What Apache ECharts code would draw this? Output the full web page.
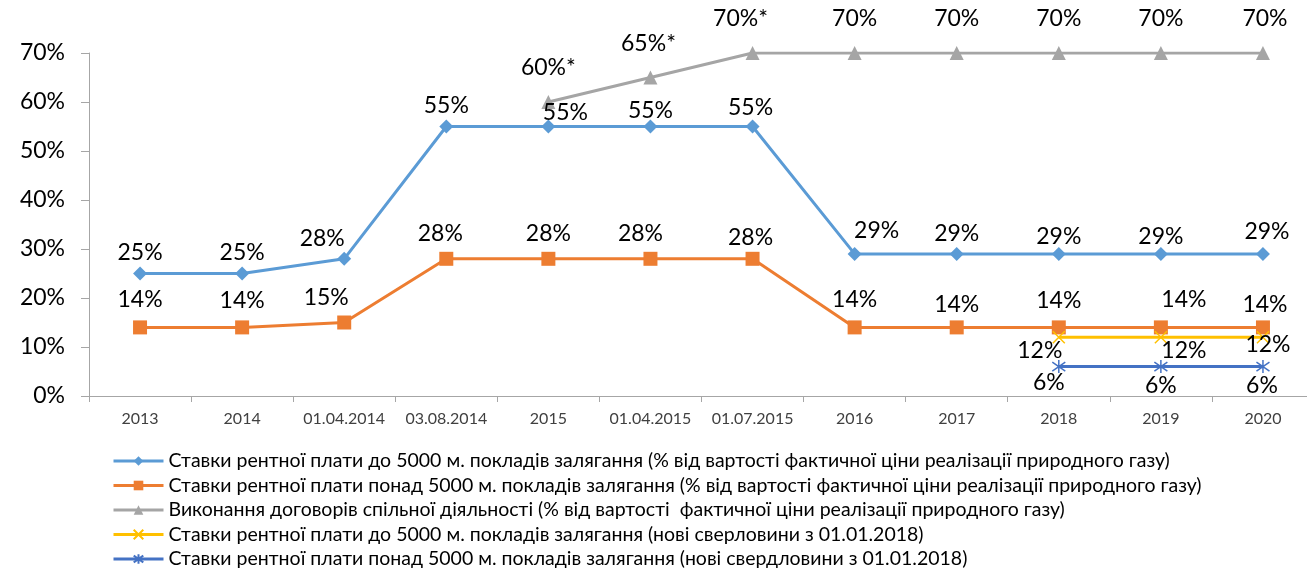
<!DOCTYPE html>
<html>
<head>
<meta charset="utf-8">
<script src="https://cdn.jsdelivr.net/npm/echarts@6/dist/echarts.min.js"></script>
<style>
    html, body {margin: 0; padding: 0; background: #fff; overflow: hidden;}
    /* графік трохи ширший за вікно: правий край осі виходить за кадр, як в оригіналі */
    #chart {width: 1320px; height: 570px;}
</style>
</head>
<body>
<div id="chart"></div>
<script>
    // категорії (роки / дати)
    var categories = ['2013', '2014', '01.04.2014', '03.08.2014', '2015', '01.04.2015', '01.07.2015',
        '2016', '2017', '2018', '2019', '2020'];

    // значення рядів, %
    var rentBelow5000 = [25, 25, 28, 55, 55, 55, 55, 29, 29, 29, 29, 29];
    var rentAbove5000 = [14, 14, 15, 28, 28, 28, 28, 14, 14, 14, 14, 14];
    var jointActivity = [null, null, null, null, 60, 65, 70, 70, 70, 70, 70, 70];
    var newWellsBelow = [null, null, null, null, null, null, null, null, null, 12, 12, 12];
    var newWellsAbove = [null, null, null, null, null, null, null, null, null, 6, 6, 6];

    // підписи, що відрізняються від значення
    var jointLabels = [null, null, null, null, '60%*', '65%*', '70%*', '70%', '70%', '70%', '70%', '70%'];

    var yTicks = [0, 10, 20, 30, 40, 50, 60, 70];

    var seriesNames = [
        'Ставки рентної плати до 5000 м. покладів залягання (% від вартості фактичної ціни реалізації природного газу)',
        'Ставки рентної плати понад 5000 м. покладів залягання (% від вартості фактичної ціни реалізації природного газу)',
        'Виконання договорів спільної діяльності (% від вартості  фактичної ціни реалізації природного газу)',
        'Ставки рентної плати до 5000 м. покладів залягання (нові сверловини з 01.01.2018)',
        'Ставки рентної плати понад 5000 м. покладів залягання (нові свердловини з 01.01.2018)'
    ];

    var FONT = 'Lato, "Open Sans", sans-serif';

    //зсуви окремих підписів (x, y) - лише розкладка
    var nudges = {
        0: {2: [-22, 0], 4: [17, 6.5], 5: [0, 4.5], 6: [-2, 1.5], 7: [22, -2.5], 9: [0, 3.5], 10: [0, 3.5], 11: [4, -1.5]},
        1: {0: [0, -1.5], 2: [-18, 1.5], 3: [-6, 1.5], 4: [0, 1.5], 5: [-10, 1.5], 6: [-2, 5.5], 7: [0, -1.5],
            8: [0, 3.5], 10: [23, -1.5], 11: [2, 3.5]},
        2: {5: [-2, 0], 6: [-12, 0], 11: [2, 0]},
        3: {9: [-19, 0], 10: [23, 0], 11: [5, -6]},
        4: {9: [-10, -3], 11: [-1, 0]}
    };

    function buildData(values, idx) {
        return values.map(function (v, i) {
            var n = nudges[idx][i];
            if (v === null || !n) {
                return v;
            }
            return {value: v, label: {offset: n}};
        });
    }

    var labelBase = {
        show: true,
        fontFamily: FONT,
        fontSize: 23,
        color: '#000'
    };

    function makeSeries(idx, values, color, symbol, symbolSize, labelPos, labelDist, formatter) {
        var label = Object.assign({}, labelBase, {position: labelPos, distance: labelDist});
        label.formatter = formatter || function (p) {
            return p.value + '%';
        };
        return {
            name: seriesNames[idx],
            type: 'line',
            data: buildData(values, idx),
            symbol: symbol,
            symbolSize: symbolSize,
            showAllSymbol: true,
            connectNulls: false,
            lineStyle: {color: color, width: 3},
            itemStyle: {color: color, borderColor: color, borderWidth: symbol.indexOf('path://') === 0 ? 1.5 : 0},
            label: label,
            emphasis: {disabled: true},
            animation: false
        };
    }

    var xMark = 'path://M0,0L10,10M10,0L0,10';
    var starMark = 'path://M5,0L5,10M0,1.5L10,8.5M10,1.5L0,8.5';

    var option = {
        backgroundColor: '#fff',
        grid: {
            left: 89,
            right: 6,
            top: 53,
            bottom: 174,
            containLabel: false
        },
        legend: {
            orient: 'vertical',
            left: 112,
            top: 451,
            padding: 0,
            itemWidth: 50,
            itemHeight: 12,
            itemGap: 4.5,
            lineStyle: {width: 3},
            textStyle: {fontFamily: FONT, fontSize: 19.5, color: '#000', lineHeight: 20},
            data: seriesNames
        },
        xAxis: {
            type: 'category',
            data: categories,
            boundaryGap: true,
            axisLine: {lineStyle: {color: '#A6A6A6', width: 1}},
            axisTick: {show: true, length: 6, lineStyle: {color: '#A6A6A6'}},
            axisLabel: {fontFamily: FONT, fontSize: 16, color: '#404040', margin: 15, interval: 0}
        },
        yAxis: {
            type: 'value',
            min: yTicks[0],
            max: yTicks[yTicks.length - 1],
            interval: 10,
            axisLine: {show: true, lineStyle: {color: '#A6A6A6', width: 1}},
            axisTick: {show: true, length: 8, lineStyle: {color: '#A6A6A6'}},
            splitLine: {show: false},
            axisLabel: {fontFamily: FONT, fontSize: 23, color: '#000', margin: 24, formatter: '{value}%'}
        },
        series: [
            makeSeries(0, rentBelow5000, '#5B9BD5', 'diamond', 14, 'top', 2),
            makeSeries(1, rentAbove5000, '#ED7D31', 'rect', 14, 'top', 8),
            makeSeries(2, jointActivity, '#A5A5A5', 'triangle', 14, 'top', 15.5, function (p) {
                return jointLabels[p.dataIndex];
            }),
            makeSeries(3, newWellsBelow, '#FFC000', xMark, 12, 'bottom', -5),
            makeSeries(4, newWellsAbove, '#4472C4', starMark, 13, 'bottom', 0)
        ]
    };

    var myChart = echarts.init(document.getElementById('chart'), null, {renderer: 'canvas'});
    myChart.setOption(option);
</script>
</body>
</html>
